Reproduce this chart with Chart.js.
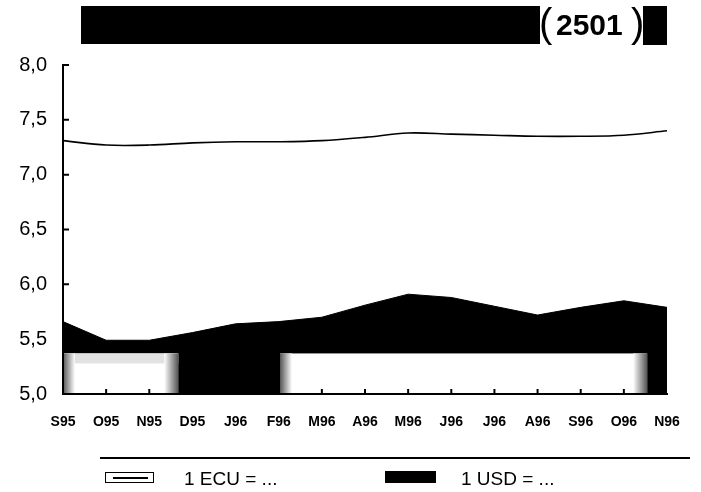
<!DOCTYPE html>
<html>
<head>
<meta charset="utf-8">
<script src="https://cdn.jsdelivr.net/npm/chart.js@4.4.0/dist/chart.umd.min.js"></script>
<style>
  body { margin: 0; background: #fff; font-family: 'Liberation Sans', Arial, sans-serif; }
  #wrap { position: relative; width: 701px; height: 492px; overflow: hidden; }
  #myChart { position: absolute; left: 0; top: 0; }
  .bar { position: absolute; background: #000; }
  .txt { position: absolute; color: #000; white-space: nowrap; }
</style>
</head>
<body>
<div id="wrap">
  <canvas id="myChart" width="701" height="492"></canvas>

  <!-- title strip -->
  <div class="bar" style="left:81px; top:6px; width:459px; height:38px;"></div>
  <div class="txt" style="left:539px; top:0px; font-size:40px; line-height:46px;">(</div>
  <div class="txt" style="left:556px; top:6px; font-size:30px; font-weight:bold; line-height:38px;">2501</div>
  <div class="txt" style="left:631px; top:0px; font-size:40px; line-height:46px;">)</div>
  <div class="bar" style="left:643px; top:6px; width:24px; height:39px;"></div>

  <!-- legend -->
  <div class="bar" style="left:100px; top:457px; width:590px; height:2px;"></div>
  <div style="position:absolute; left:105px; top:472px; width:47px; height:9px; border:1.5px solid #000;"></div>
  <div class="bar" style="left:113px; top:477px; width:35px; height:2px;"></div>
  <div class="txt" style="left:184px; top:467px; font-size:19px; line-height:24px;">1 ECU = ...</div>
  <div class="bar" style="left:385px; top:471px; width:51px; height:12px;"></div>
  <div class="txt" style="left:461px; top:467px; font-size:19px; line-height:24px;">1 USD = ...</div>
</div>

<script>
// months, Sept 1995 - Nov 1996
const months = ['S95', 'O95', 'N95', 'D95', 'J96', 'F96', 'M96', 'A96', 'M96', 'J96', 'J96', 'A96', 'S96', 'O96', 'N96'];

// exchange rates
const ecuRate = [7.31, 7.27, 7.27, 7.29, 7.30, 7.30, 7.31, 7.34, 7.38, 7.37, 7.36, 7.35, 7.35, 7.36, 7.40];
const usdRate = [5.66, 5.49, 5.49, 5.56, 5.64, 5.66, 5.70, 5.81, 5.91, 5.88, 5.80, 5.72, 5.79, 5.85, 5.79];

const yTicks = [5.0, 5.5, 6.0, 6.5, 7.0, 7.5, 8.0];

const fontName = "'Liberation Sans', Arial, sans-serif";

// white patches along the bottom of the scan (category index from/to, top value)
const patches = [
  { from: 0, to: 2.67, top: 5.37, band: true },
  { from: 5.03, to: 13.54, top: 5.37, band: false }
];

const decor = {
  id: 'decor',
  afterDatasetsDraw(chart) {
    const { ctx, chartArea, scales: { x, y } } = chart;
    ctx.save();

    // scanned white patches
    for (const p of patches) {
      const x0 = x.getPixelForValue(p.from);
      const x1 = x.getPixelForValue(p.to);
      const y0 = y.getPixelForValue(p.top);
      const y1 = chartArea.bottom;
      ctx.fillStyle = '#fff';
      ctx.fillRect(x0, y0, x1 - x0, y1 - y0);
      if (p.band) {
        ctx.fillStyle = '#e2e2e2';
        ctx.fillRect(x0, y0, x1 - x0, 10);
      }
      let g = ctx.createLinearGradient(x0, 0, x0 + 12, 0);
      g.addColorStop(0, '#555');
      g.addColorStop(1, '#fff');
      ctx.fillStyle = g;
      ctx.fillRect(x0, y0, 12, y1 - y0);
      g = ctx.createLinearGradient(x1 - 14, 0, x1, 0);
      g.addColorStop(0, '#fff');
      g.addColorStop(1, '#555');
      ctx.fillStyle = g;
      ctx.fillRect(x1 - 14, y0, 14, y1 - y0);
    }

    // axis lines
    ctx.strokeStyle = '#000';
    ctx.lineWidth = 2;
    ctx.beginPath();
    ctx.moveTo(chartArea.left, chartArea.top);
    ctx.lineTo(chartArea.left, chartArea.bottom);
    ctx.lineTo(chartArea.right, chartArea.bottom);
    ctx.stroke();

    // inward tick marks
    ctx.beginPath();
    for (const v of yTicks) {
      const py = y.getPixelForValue(v);
      ctx.moveTo(chartArea.left, py);
      ctx.lineTo(chartArea.left + 6, py);
    }
    for (let i = 1; i < months.length - 1; i++) {
      const px = x.getPixelForValue(i);
      ctx.moveTo(px, chartArea.bottom);
      ctx.lineTo(px, chartArea.bottom - 5);
    }
    ctx.stroke();
    ctx.restore();
  }
};

let ctx = document.getElementById('myChart').getContext('2d');
let chart = new Chart(ctx, {
  type: 'line',
  data: {
    labels: months,
    datasets: [
      {
        label: '1 ECU = ...',
        data: ecuRate,
        borderColor: '#000',
        borderWidth: 1.6,
        pointRadius: 0,
        tension: 0.35,
        fill: false
      },
      {
        label: '1 USD = ...',
        data: usdRate,
        borderColor: '#000',
        backgroundColor: '#000',
        borderWidth: 1,
        pointRadius: 0,
        tension: 0,
        fill: 'start'
      }
    ]
  },
  options: {
    responsive: false,
    animation: false,
    layout: { padding: { top: 65, right: 34, bottom: 58, left: 0 } },
    plugins: {
      legend: { display: false },
      tooltip: { enabled: false }
    },
    scales: {
      x: {
        offset: false,
        grid: { display: false, drawTicks: false },
        border: { display: true, color: '#000', width: 2 },
        ticks: {
          color: '#000',
          font: { family: fontName, size: 14, weight: 'bold' },
          padding: 20,
          maxRotation: 0,
          autoSkip: false
        },
        afterFit: s => { s.height = 40; }
      },
      y: {
        min: 5,
        max: 8,
        grid: { display: false, drawTicks: false },
        border: { display: true, color: '#000', width: 2 },
        ticks: {
          stepSize: 0.5,
          color: '#000',
          font: { family: fontName, size: 20 },
          padding: 16,
          callback: v => v.toFixed(1).replace('.', ',')
        },
        afterFit: s => { s.width = 63; }
      }
    }
  },
  plugins: [decor]
});
</script>
</body>
</html>
